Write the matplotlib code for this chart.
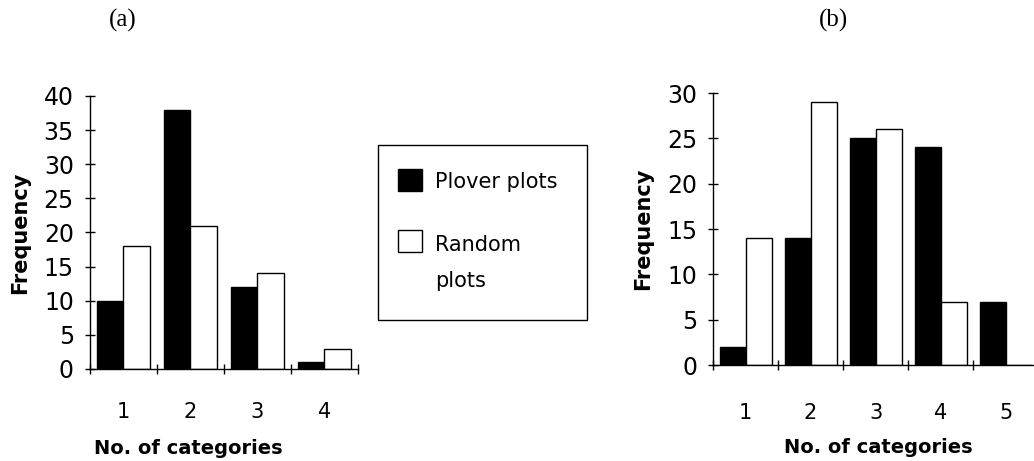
import matplotlib

matplotlib.use("Agg")
import matplotlib.pyplot as plt
import numpy as np
from matplotlib.patches import Rectangle

# panel (a)
cats_a = [1, 2, 3, 4]
plover_a = [10, 38, 12, 1]
random_a = [18, 21, 14, 3]

# panel (b)
cats_b = [1, 2, 3, 4, 5]
plover_b = [2, 14, 25, 24, 7]
random_b = [14, 29, 26, 7, 0]

series_labels = ["Plover plots", "Random\nplots"]

plt.rcParams["font.family"] = ["DejaVu Sans"]
plt.rcParams["font.size"] = 15

W, H = 1034, 461


def draw_panel(ax, cats, plover, random, ymax, step, xpad, xlabel_x):
    x = np.array(cats, dtype=float)
    w = 0.4
    ax.bar(x - w / 2, plover, width=w, color="black", edgecolor="black", linewidth=1)
    ax.bar(x + w / 2, random, width=w, color="white", edgecolor="black", linewidth=1)
    ax.set_xlim(x[0] - 0.5, x[-1] + 0.5)
    ax.set_ylim(0, ymax)
    ax.set_yticks(np.arange(0, ymax + 1, step))
    ax.set_xticks(x)
    ax.set_xticks(np.arange(x[0] - 0.5, x[-1] + 0.6, 1.0), minor=True)
    ax.tick_params(axis="x", which="major", length=0, pad=xpad, labelsize=15)
    ax.tick_params(axis="x", which="minor", direction="inout", length=7, width=1)
    ax.tick_params(axis="y", direction="inout", length=7, width=1, pad=8, labelsize=17)
    for side in ("top", "right"):
        ax.spines[side].set_visible(False)
    for side in ("left", "bottom"):
        ax.spines[side].set_linewidth(1)
    ax.set_xlabel("No. of categories", fontweight="bold", fontsize=14, labelpad=14)
    ax.xaxis.set_label_coords(xlabel_x, -0.255 if xpad < 26 else -0.27)
    ax.set_ylabel("Frequency", fontweight="bold", fontsize=15, labelpad=10)


fig = plt.figure(figsize=(W / 100, H / 100), dpi=100)

ax_a = fig.add_axes([0.087, 0.1996, 0.2592, 0.5922])
draw_panel(ax_a, cats_a, plover_a, random_a, 40, 5, 24, 0.366)

ax_b = fig.add_axes([0.6896, 0.2082, 0.3143, 0.590])
draw_panel(ax_b, cats_b, plover_b, random_b, 30, 5, 27, 0.51)

fig.text(0.119, 0.955, "(a)", family="Liberation Serif", fontsize=18, ha="center", va="center")
fig.text(0.806, 0.955, "(b)", family="Liberation Serif", fontsize=18, ha="center", va="center")


# legend drawn as a framed box in pixel positions
def px(x, y):
    return x / W, 1 - y / H


fx, fy = px(378, 320)
fig.patches.append(Rectangle((fx, fy), 209 / W, 175 / H, transform=fig.transFigure,
                             facecolor="white", edgecolor="black", linewidth=1))
for (top, face) in ((169, "black"), (230, "white")):
    sx, sy = px(398, top + 22)
    fig.patches.append(Rectangle((sx, sy), 24 / W, 22 / H, transform=fig.transFigure,
                                 facecolor=face, edgecolor="black", linewidth=1))
tx, ty = px(435, 182)
fig.text(tx, ty, series_labels[0], fontsize=15, ha="left", va="center")
tx, ty = px(435, 263)
fig.text(tx, ty, series_labels[1], fontsize=15, ha="left", va="center", linespacing=1.95)

fig.savefig("out.png", dpi=100)
